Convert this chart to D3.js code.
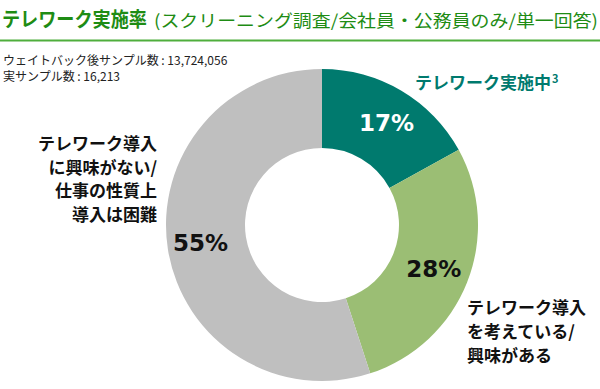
<!doctype html>
<html>
<head>
<meta charset="utf-8">
<script src="https://d3js.org/d3.v7.min.js"></script>
<style>
  body { margin: 0; background: #fff; }
  text { font-family: "Noto Sans CJK JP", "Noto Sans", sans-serif; }
  .pct { font-family: "DejaVu Sans", sans-serif; font-weight: bold; }
</style>
</head>
<body>
<svg width="600" height="389"></svg>
<script>
// data
var categories = ["テレワーク実施中", "テレワーク導入を考えている/興味がある", "テレワーク導入に興味がない/仕事の性質上導入は困難"];
var values = [17, 28, 55];
var colors = ["#007a6e", "#9bbe74", "#bfbfbf"];
var pctLabels = ["17%", "28%", "55%"];
var labelLines = [
  ["テレワーク実施中"],
  ["テレワーク導入", "を考えている/", "興味がある"],
  ["テレワーク導入", "に興味がない/", "仕事の性質上", "導入は困難"]
];

var svg = d3.select("svg");

// header
svg.append("text")
   .attr("x", 2).attr("y", 27)
   .attr("font-size", "20px")
   .attr("font-weight", "bold")
   .attr("fill", "#1e8c14")
   .attr("textLength", 145).attr("lengthAdjust", "spacingAndGlyphs")
   .text("テレワーク実施率");
svg.append("text")
   .attr("x", 154).attr("y", 27)
   .attr("font-size", "17px")
   .attr("fill", "#1e8c14")
   .attr("textLength", 444).attr("lengthAdjust", "spacingAndGlyphs")
   .text("(スクリーニング調査/会社員・公務員のみ/単一回答)");
svg.append("line")
   .attr("x1", 0).attr("x2", 600)
   .attr("y1", 40.5).attr("y2", 40.5)
   .attr("stroke", "#4fae3c").attr("stroke-width", 2);

svg.append("text")
   .attr("x", 3).attr("y", 65)
   .attr("font-size", "12px").attr("fill", "#222")
   .text("ウェイトバック後サンプル数 : 13,724,056");
svg.append("text")
   .attr("x", 3).attr("y", 81)
   .attr("font-size", "12px").attr("fill", "#222")
   .text("実サンプル数 : 16,213");

// donut
var cx = 322, cy = 225, outerR = 156, innerR = 77;
var g = svg.append("g").attr("transform", "translate(" + cx + "," + cy + ")");

var pie = d3.pie().sort(null).value(function(d) { return d; });
var arc = d3.arc().innerRadius(innerR).outerRadius(outerR);
var arcs = pie(values);

g.selectAll("path")
 .data(arcs)
 .enter().append("path")
 .attr("d", arc)
 .attr("fill", function(d, i) { return colors[i]; });

// percentage labels, placed along arc centroid with small offsets
var pctOffset = [[5, -2], [3, 1], [-6, -1]];
var labelArc = d3.arc().innerRadius(117).outerRadius(117);
g.selectAll(".pct")
 .data(arcs)
 .enter().append("text")
 .attr("class", "pct")
 .attr("x", function(d, i) { return labelArc.centroid(d)[0] + pctOffset[i][0]; })
 .attr("y", function(d, i) { return labelArc.centroid(d)[1] + pctOffset[i][1]; })
 .attr("dy", "0.36em")
 .attr("text-anchor", "middle")
 .attr("font-size", "23px")
 .attr("fill", function(d, i) { return i == 0 ? "#fff" : "#111"; })
 .text(function(d, i) { return pctLabels[i]; });

// category labels
var t0 = svg.append("text")
   .attr("x", 415).attr("y", 89)
   .attr("font-size", "17px").attr("font-weight", "bold")
   .attr("fill", "#007a6e");
t0.append("tspan").text(labelLines[0][0]);
t0.append("tspan").attr("font-size", "11px").attr("dy", "-6").attr("dx", "1").text("3");

var t1 = svg.append("text")
   .attr("font-size", "17px").attr("font-weight", "bold").attr("fill", "#111");
labelLines[1].forEach(function(s, i) {
  t1.append("tspan").attr("x", 467).attr("y", 314 + i * 24).text(s);
});

var t2 = svg.append("text")
   .attr("font-size", "17px").attr("font-weight", "bold").attr("fill", "#111")
   .attr("text-anchor", "end");
labelLines[2].forEach(function(s, i) {
  t2.append("tspan").attr("x", 157).attr("y", 150 + i * 23.5).text(s);
});
</script>
</body>
</html>
